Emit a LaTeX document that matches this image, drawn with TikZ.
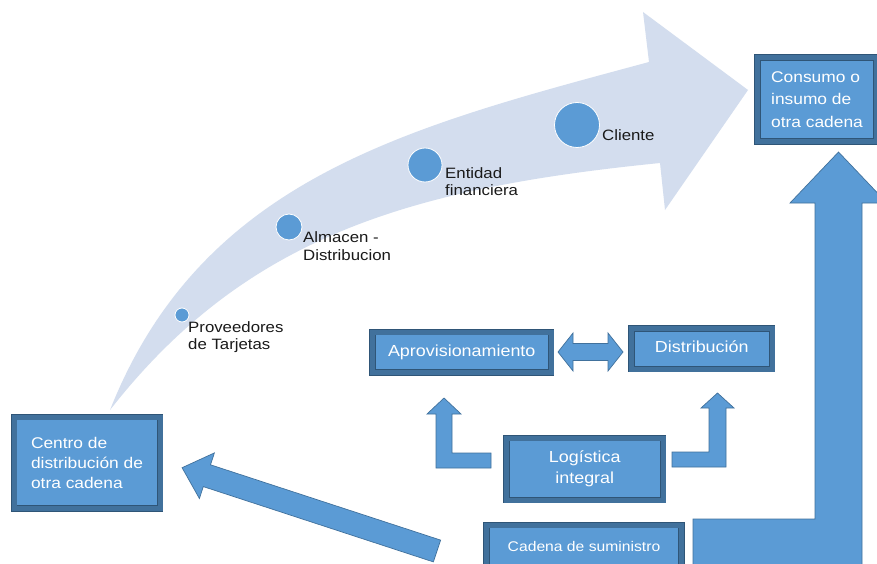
\documentclass[tikz,border=0pt]{standalone}
\usepackage{fontspec}
\setmainfont{Liberation Sans}[FakeStretch=1.12]
\usetikzlibrary{calc}
\definecolor{boxfill}{HTML}{5B9BD5}
\definecolor{boxband}{HTML}{41719C}
\definecolor{boxline}{HTML}{2F5577}
\definecolor{arrowline}{HTML}{41719C}
\definecolor{lightarrow}{HTML}{D3DDEE}
\definecolor{labcol}{HTML}{1A1A1A}
\begin{document}
\begin{tikzpicture}[x=1pt,y=-1pt,
  box/.style={draw=boxline, double=boxband, double distance=5pt, line width=0.8pt,
    fill=boxfill, text=white, align=left, inner sep=0pt},
  barrow/.style={fill=boxfill, draw=arrowline, line width=0.7pt, line join=miter},
  dot/.style={circle, fill=boxfill, draw=white, line width=0.8pt, inner sep=0pt},
  lab/.style={anchor=north west, inner sep=0pt, align=left, text=labcol,
    font=\fontsize{15}{17}\selectfont}]
\useasboundingbox (0,0) rectangle (877,564);
\clip (0,0) rectangle (877,564);
\fill[white] (0,0) rectangle (877,564);

% light curved arrow
\fill[lightarrow] (110,410) .. controls (202,178) and (408,127) .. (649,62)
  -- (643,12) -- (748,90) -- (665,210) -- (660,163)
  .. controls (411,188) and (246,236) .. (110,410) -- cycle;

% dots and labels
\node[dot, minimum size=14pt] (d1) at (182,315) {};
\node[dot, minimum size=26pt] (d2) at (289,227) {};
\node[dot, minimum size=34pt] (d3) at (425,165) {};
\node[dot, minimum size=45pt] (d4) at (577,125) {};
\node[lab] (l1) at (188,321) {Proveedores\\de Tarjetas};
\node[lab, font=\fontsize{15}{18}\selectfont] (l2) at (303,231) {Almacen -\\Distribucion};
\node[lab] (l3) at (445,167) {Entidad\\financiera};
\node[lab] (l4) at (602,129) {Cliente};

% boxes
\node[box, minimum width=146pt, minimum height=91.5pt, font=\fontsize{15.5}{20}\selectfont]
  (centro) at (87,462.75) {Centro de\\distribución de\\otra cadena};
\node[box, minimum width=119pt, minimum height=84pt, font=\fontsize{15.5}{22.5}\selectfont]
  (consumo) at (817,99.5) {Consumo o\\insumo de\\otra cadena};
\node[box, minimum width=178.5pt, minimum height=40.5pt, text height=11.5pt, text depth=3.5pt,
  font=\fontsize{16}{20}\selectfont] (aprov) at (461.75,352.25) {Aprovisionamiento};
\node[box, minimum width=140.5pt, minimum height=40.5pt, text height=11.5pt, text depth=3.5pt,
  font=\fontsize{16}{20}\selectfont] (distrib) at (701.75,348.75) {Distribución};
\node[box, align=center, minimum width=156.5pt, minimum height=62pt,
  font=\fontsize{16}{21}\selectfont] (logis) at (584.75,469) {Logística\\integral};
\node[box, minimum width=195pt, minimum height=46pt, text height=10.3pt, text depth=3pt,
  font=\fontsize{14}{17}\selectfont] (cadena) at (584,548) {Cadena de suministro};

% big L arrow up to Consumo
\path[barrow] (693,519) -- (815,519) -- (815,203) -- (790,203) -- (838.5,152)
  -- (887,203) -- (862,203) -- (862,580) -- (693,580) -- cycle;

% diagonal arrow to Centro
\path[barrow] (440.6,540.1) -- (210.5,464.8) -- (214.4,452.9) -- (182.1,467.7)
  -- (199.4,498.5) -- (203.3,486.6) -- (433.4,561.9) -- cycle;

% bent arrows from Logistica
\path[barrow] (491,453) -- (452,453) -- (452,414) -- (461,414) -- (444,398)
  -- (427,414) -- (436,414) -- (436,468) -- (491,468) -- cycle;
\path[barrow] (672,452) -- (709,452) -- (709,408) -- (701,408) -- (717.5,393)
  -- (734,408) -- (726,408) -- (726,467) -- (672,467) -- cycle;

% double arrow
\path[barrow] (558,352) -- (573,333) -- (573,343.5) -- (608,343.5) -- (608,333)
  -- (623,352) -- (608,371) -- (608,360.5) -- (573,360.5) -- (573,371) -- cycle;
\end{tikzpicture}
\end{document}
